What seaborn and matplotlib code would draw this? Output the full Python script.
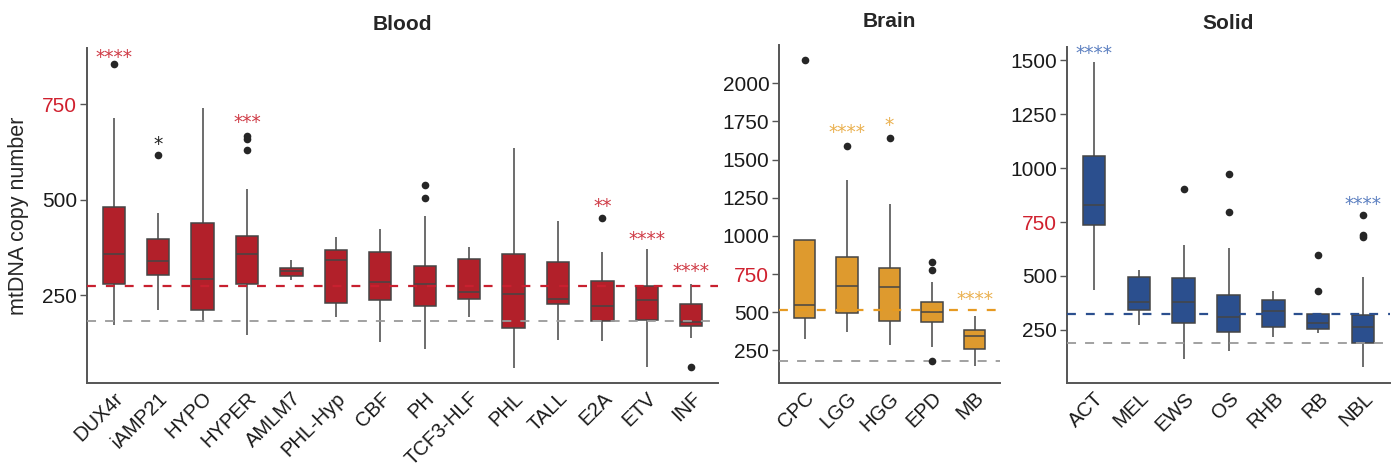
import numpy as np
import pandas as pd
import matplotlib
matplotlib.use("Agg")
import matplotlib.pyplot as plt
import matplotlib.transforms as mtrans
import seaborn as sns

sns.set_style("white")
plt.rcParams['font.family'] = ['Liberation Sans', 'DejaVu Sans']

# ---------------- data ----------------
blood_cats = ["DUX4r", "iAMP21", "HYPO", "HYPER", "AMLM7", "PHL-Hyp", "CBF", "PH",
              "TCF3-HLF", "PHL", "TALL", "E2A", "ETV", "INF"]
blood_lo  = [172, 211, 180, 145, 289, 193, 128, 109, 193, 60, 132, 130, 62, 138]
blood_q1  = [278, 304, 211, 278, 301, 229, 236, 221, 241, 163, 226, 182, 185, 170]
blood_med = [359, 340, 291, 359, 313, 342, 285, 278, 257, 254, 241, 222, 236, 180]
blood_q3  = [480, 397, 439, 406, 321, 369, 363, 327, 344, 359, 336, 288, 273, 226]
blood_hi  = [715, 465, 741, 529, 343, 403, 424, 458, 376, 634, 444, 364, 371, 280]
blood_fliers = {"DUX4r": [856], "iAMP21": [616], "HYPER": [666, 660, 630],
                "PH": [538, 505], "E2A": [451], "INF": [62]}
blood_sig = {"DUX4r": ("****", 884, "#cf3a45"), "iAMP21": ("*", 656, "#222222"),
             "HYPER": ("***", 712, "#cf3a45"), "E2A": ("**", 494, "#cf3a45"),
             "ETV": ("****", 407, "#cf3a45"), "INF": ("****", 324, "#cf3a45")}
blood_ref = 274
blood_ticks = [250, 500, 750]

brain_cats = ["CPC", "LGG", "HGG", "EPD", "MB"]
brain_lo  = [326, 370, 287, 270, 145]
brain_q1  = [462, 494, 444, 436, 261]
brain_med = [545, 669, 665, 499, 346]
brain_q3  = [970, 861, 789, 566, 381]
brain_hi  = [970, 1367, 1210, 695, 473]
brain_fliers = {"CPC": [2153], "LGG": [1590], "HGG": [1644], "EPD": [828, 778, 182]}
brain_sig = {"LGG": ("****", 1705, "#eab04e"), "HGG": ("*", 1749, "#eab04e"),
             "MB": ("****", 608, "#eab04e")}
brain_ref = 516
brain_ticks = [250, 500, 750, 1000, 1250, 1500, 1750, 2000]

solid_cats = ["ACT", "MEL", "EWS", "OS", "RHB", "RB", "NBL"]
solid_lo  = [435, 273, 116, 153, 216, 235, 76]
solid_q1  = [735, 340, 281, 238, 262, 255, 187]
solid_med = [830, 381, 378, 309, 335, 282, 265]
solid_q3  = [1055, 497, 488, 409, 387, 324, 318]
solid_hi  = [1492, 525, 644, 631, 432, 324, 497]
solid_fliers = {"EWS": [901], "OS": [974, 796], "RB": [597, 431], "NBL": [781, 690, 679]}
solid_sig = {"ACT": ("****", 1551, "#5b7fc0"), "NBL": ("****", 852, "#5b7fc0")}
solid_ref = 322
solid_ticks = [250, 500, 750, 1000, 1250, 1500]

baseline_ref = 183

panels = [
    dict(title="Blood", cats=blood_cats, lo=blood_lo, q1=blood_q1, med=blood_med, q3=blood_q3,
         hi=blood_hi, fliers=blood_fliers, sig=blood_sig, ref=blood_ref, ticks=blood_ticks,
         fill="#b2202a", refcol="#c8202f", ylim=(20, 897), base=baseline_ref,
         pos=[87, 48, 718, 383]),
    dict(title="Brain", cats=brain_cats, lo=brain_lo, q1=brain_q1, med=brain_med, q3=brain_q3,
         hi=brain_hi, fliers=brain_fliers, sig=brain_sig, ref=brain_ref, ticks=brain_ticks,
         fill="#de9a2e", refcol="#e69a22", ylim=(36, 2251), base=baseline_ref,
         pos=[779, 45, 1000, 383]),
    dict(title="Solid", cats=solid_cats, lo=solid_lo, q1=solid_q1, med=solid_med, q3=solid_q3,
         hi=solid_hi, fliers=solid_fliers, sig=solid_sig, ref=solid_ref, ticks=solid_ticks,
         fill="#2b4f8e", refcol="#2b4f8e", ylim=(3, 1562), base=190,
         pos=[1067, 47, 1390, 383]),
]

W, H = 1395, 469
fig = plt.figure(figsize=(W / 100, H / 100), dpi=100)
shift = mtrans.ScaledTranslation(0.09, 0.0, fig.dpi_scale_trans)

for p in panels:
    x0, y0, x1, y1 = p["pos"]
    ax = fig.add_axes([x0 / W, 1 - y1 / H, (x1 - x0) / W, (y1 - y0) / H])
    rows = []
    for i, c in enumerate(p["cats"]):
        for v in (p["lo"][i], p["q1"][i], p["med"][i], p["q3"][i], p["hi"][i]):
            rows.append((c, v))
    df = pd.DataFrame(rows, columns=["cat", "val"])
    sns.boxplot(data=df, x="cat", y="val", order=p["cats"], color=p["fill"], saturation=1,
                width=0.5, whis=(0, 100), showfliers=False, showcaps=False,
                linecolor="#454545", linewidth=1.1, ax=ax)
    fr = [(c, v) for c, vs in p["fliers"].items() for v in vs]
    fdf = pd.DataFrame(fr, columns=["cat", "val"])
    sns.stripplot(data=fdf, x="cat", y="val", order=p["cats"], jitter=False,
                  color="#262626", size=5.5, ax=ax, zorder=5)
    ax.axhline(p["ref"], color=p["refcol"], lw=1.6, ls=(0, (4, 4.5)), zorder=4)
    ax.axhline(p["base"], color="#9a9a9a", lw=1.3, ls=(0, (5, 5)), zorder=4)
    for c, (s, y, col) in p["sig"].items():
        ax.annotate(s, (p["cats"].index(c), y), xytext=(0, -3), textcoords="offset points",
                    ha="center", va="center", color=col,
                    fontsize=13.5, family="DejaVu Sans", zorder=6)
    n = len(p["cats"])
    ax.set_xlim(-0.6, n - 1 + 0.6)
    ax.set_ylim(*p["ylim"])
    ax.set_yticks(p["ticks"])
    ax.set_yticklabels([str(t) for t in p["ticks"]], fontsize=15, color="#1a1a1a")
    for lab, t in zip(ax.get_yticklabels(), p["ticks"]):
        if t == 750:
            lab.set_color("#d0202e")
    ax.set_xticks(range(n))
    ax.set_xticklabels(p["cats"], rotation=45, ha="right", va="top",
                       rotation_mode="anchor", fontsize=14.5, color="#1a1a1a")
    for lab in ax.get_xticklabels():
        lab.set_transform(lab.get_transform() + shift)
    ax.tick_params(axis="y", length=5, width=1, color="#555555", pad=2, left=True)
    ax.tick_params(axis="x", length=0, pad=4)
    ax.set_xlabel("")
    ax.set_ylabel("")
    for sp in ("top", "right"):
        ax.spines[sp].set_visible(False)
    for sp in ("left", "bottom"):
        ax.spines[sp].set_color("#555555")
        ax.spines[sp].set_linewidth(1.4)
    ax.set_title(p["title"], fontsize=15, fontweight="bold", pad=13)
    if p["title"] == "Blood":
        ax.set_ylabel("mtDNA copy number", fontsize=15.5)
        ax.yaxis.set_label_coords(-58 / (x1 - x0), 0.5)

fig.savefig("out.png", dpi=100)
